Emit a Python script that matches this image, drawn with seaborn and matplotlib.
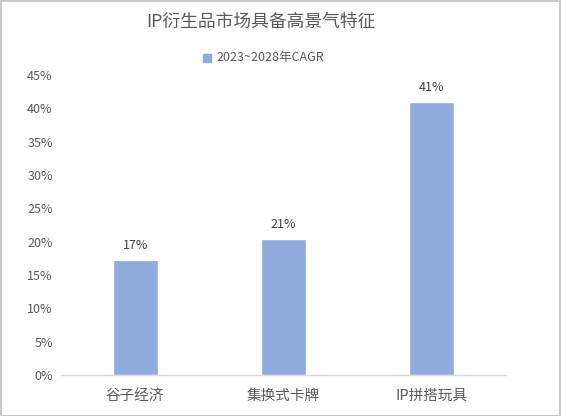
import matplotlib
matplotlib.use("Agg")
import matplotlib.pyplot as plt
import seaborn as sns
import pandas as pd
from matplotlib.patches import Rectangle

categories = ["谷子经济", "集换式卡牌", "IP拼搭玩具"]
cagr = [0.173, 0.204, 0.409]
bar_labels = ["17%", "21%", "41%"]
y_ticks = [0, 0.05, 0.10, 0.15, 0.20, 0.25, 0.30, 0.35, 0.40, 0.45]
series_name = "2023~2028年CAGR"
title = "IP衍生品市场具备高景气特征"

sns.set_theme(style="white")
plt.rcParams["font.family"] = ["Noto Sans CJK SC", "DejaVu Sans"]

df = pd.DataFrame({"cat": categories, "val": cagr})
bar_color = "#8FAADC"
txt = "#595959"

fig = plt.figure(figsize=(5.61, 4.16), dpi=100)
ax = fig.add_axes([61 / 561, 1 - 375 / 416, (506 - 61) / 561, 300 / 416])

sns.barplot(data=df, x="cat", y="val", color=bar_color, width=0.305, saturation=1, ax=ax)

ax.set_ylim(0, 0.45)
ax.set_yticks(y_ticks)
ax.set_yticklabels([f"{int(round(t * 100))}%" for t in y_ticks], color=txt, fontsize=9)
ax.set_xticks(range(len(categories)))
ax.set_xticklabels(categories, color=txt, fontsize=10.5)
ax.tick_params(axis="y", length=0, pad=6)
ax.tick_params(axis="x", length=0, pad=10)
ax.set_xlabel("")
ax.set_ylabel("")
for s in ["top", "right", "left"]:
    ax.spines[s].set_visible(False)
ax.spines["bottom"].set_color("#D9D9D9")
ax.spines["bottom"].set_linewidth(1)

for i, (v, lab) in enumerate(zip(cagr, bar_labels)):
    ax.text(i, v + 0.012, lab, ha="center", va="bottom", color="#404040", fontsize=9)

fig.text(261 / 561, 1 - 22 / 416, title, ha="center", va="center", color=txt, fontsize=12.8)
fig.patches.append(Rectangle((203 / 561, 1 - 62 / 416), 8 / 561, 8 / 416,
                             transform=fig.transFigure, color=bar_color, figure=fig))
fig.text(216 / 561, 1 - 58 / 416, series_name, ha="left", va="center", color=txt, fontsize=9)

fig.patches.append(Rectangle((0.001, 0.001), 0.997, 0.997, transform=fig.transFigure,
                             fill=False, edgecolor="#BFBFBF", linewidth=1.2, figure=fig))

fig.savefig("out.png", dpi=100)
